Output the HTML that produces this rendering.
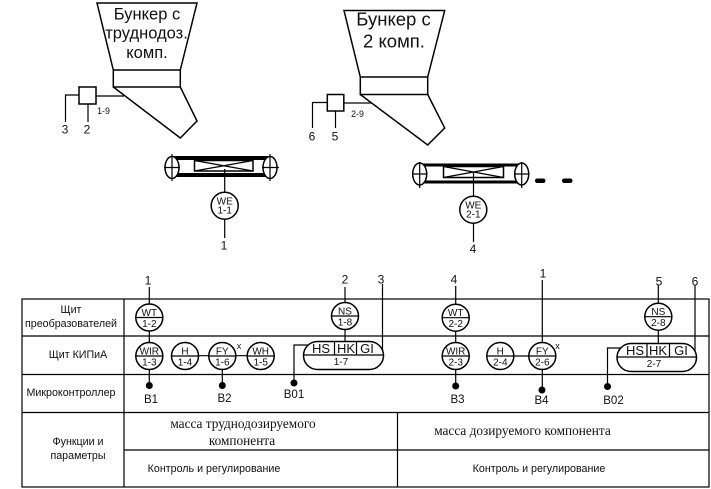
<!DOCTYPE html>
<html><head><meta charset="utf-8">
<style>
html,body{margin:0;padding:0;background:#fff;width:711px;height:489px;overflow:hidden}
svg{display:block;font-family:"Liberation Sans",sans-serif}
text{fill:#111;text-anchor:middle}
.l{stroke:#000;stroke-width:1.2;fill:none}
.c{stroke:#000;stroke-width:1.5;fill:#fff}
.h{stroke:#000;stroke-width:1.5;fill:none}
.s{font-size:10px}.n{font-size:10.7px}.b{font-size:11.5px}
.d{font-size:12px}
.r{font-family:"Liberation Serif",serif;font-size:13.300px}
</style></head><body>
<svg width="711" height="489" viewBox="0 0 711 489">
<!-- table -->
<g class="l">
<rect x="22" y="299" width="687" height="188"/>
<path d="M22 336H709M22 374.500H709M22 412.500H709M124 450H709M124 299V487M397.500 412.500V487"/>
</g>
<text class="n" x="71" y="313">Щит</text>
<text class="n" x="71" y="327">преобразователей</text>
<text class="n" x="78" y="358">Щит КИПиА</text>
<text class="n" x="71" y="396">Микроконтроллер</text>
<text class="n" x="78" y="445">Функции и</text>
<text class="n" x="78" y="459">параметры</text>
<text class="r" x="243" y="428">масса труднодозируемого</text>
<text class="r" x="242" y="445">компонента</text>
<text class="r" x="522.500" y="435">масса дозируемого компонента</text>
<text class="n" x="214" y="472">Контроль и регулирование</text>
<text class="n" x="539" y="472">Контроль и регулирование</text>

<!-- left hopper -->
<g class="h">
<path d="M113.300 70L97 3H197L180.300 70"/>
<rect x="113.300" y="70" width="67" height="17"/>
<path d="M113.300 87L180.300 138L197 121L180.300 87"/>
<rect x="79" y="87" width="17" height="17"/>
</g>
<g class="l"><path d="M96 96H124M79 95H65.500V122M88 104V122"/></g>
<text font-size="16.500" x="147" y="19.500">Бункер с</text>
<text font-size="16.500" x="146.500" y="38.500">труднодоз.</text>
<text font-size="16.500" x="147" y="58">комп.</text>
<text class="d" x="65" y="133.500">3</text>
<text class="d" x="87" y="133.500">2</text>
<text font-size="8.800" x="103.500" y="114">1-9</text>

<!-- left conveyor -->
<g>
<path d="M172 158H270M172 175H270" stroke="#000" stroke-width="4" fill="none"/>
<rect x="194.500" y="160.500" width="58.500" height="10.500" class="h"/>
<path d="M194.500 160.500L253 171M194.500 171L253 160.500" class="l" stroke-width="0.8"/>
<ellipse cx="172" cy="167.500" rx="7" ry="11" class="c"/>
<ellipse cx="270" cy="167.500" rx="7" ry="11" class="c"/>
<path d="M172 154V181M164 167.500H180M270 154V181M262 167.500H279" class="l"/>
<path d="M224.700 169V192M224.700 220V238" class="l"/>
<circle cx="224.700" cy="205.700" r="13.500" class="c"/>
</g>
<text class="s" x="224.700" y="204.500">WE</text>
<text class="s" x="224.700" y="213.500">1-1</text>
<text class="d" x="224" y="249.500">1</text>

<!-- right hopper -->
<g class="h">
<path d="M360.300 77L344 10.500H444.700L427.700 77"/>
<rect x="360.300" y="77" width="67.400" height="17.500"/>
<path d="M360.300 94.500L427.700 145L444.700 128L427.700 94.500"/>
<rect x="327.300" y="94.500" width="16.500" height="16.500"/>
</g>
<g class="l"><path d="M344 103H371M327 102.500H312.500V128M335.500 111V128"/></g>
<text font-size="18.500" x="393.500" y="25.500">Бункер с</text>
<text font-size="18.500" x="394" y="47.500">2 комп.</text>
<text class="d" x="312" y="140.500">6</text>
<text class="d" x="335" y="140.500">5</text>
<text font-size="8.800" x="357.500" y="117">2-9</text>

<!-- right conveyor -->
<g>
<path d="M420 165H522M420 182H522" stroke="#000" stroke-width="3" fill="none"/>
<rect x="443.500" y="166.500" width="60" height="11" class="h"/>
<path d="M443.500 166.500L503.500 177.500M443.500 177.500L503.500 166.500" class="l" stroke-width="0.8"/>
<ellipse cx="419.700" cy="174" rx="7" ry="11" class="c"/>
<ellipse cx="521.700" cy="174" rx="7" ry="11" class="c"/>
<path d="M419.700 162V188M412 174H427M521.700 162V188M514 174H529" class="l"/>
<path d="M473.500 172V196M473.500 224V242" class="l"/>
<circle cx="473.300" cy="209.700" r="13.500" class="c"/>
<rect x="535" y="178.500" width="10.500" height="4.500" rx="2.200" fill="#000"/>
<rect x="562" y="178.500" width="10.500" height="4.500" rx="2.200" fill="#000"/>
</g>
<text class="s" x="473.300" y="208.500">WE</text>
<text class="s" x="473.300" y="217.500">2-1</text>
<text class="d" x="473" y="253">4</text>

<!-- connectors -->
<g class="l">
<path d="M149.300 287V304M149.300 330V343M149.300 369V385"/>
<path d="M185 355.700H260M222.300 369V385"/>
<path d="M345 287V303M345 329V341"/>
<path d="M382.500 284V352"/>
<path d="M309 345H294V383"/>
<path d="M455.700 286V304M455.700 331V343M455.700 369V386"/>
<path d="M500 356H542M542.300 280V343M542.300 369V390"/>
<path d="M658.300 285V303M658.300 330V343"/>
<path d="M695 285V353"/>
<path d="M622 348H607.500V386"/>
</g>
<g fill="#000">
<circle cx="149.300" cy="385.500" r="3.500"/>
<circle cx="222.300" cy="385.500" r="3.500"/>
<circle cx="294" cy="383" r="3.500"/>
<circle cx="455.700" cy="386" r="3.500"/>
<circle cx="542" cy="390" r="3.500"/>
<circle cx="607.500" cy="386.500" r="3.500"/>
</g>

<!-- instruments -->
<g class="c">
<circle cx="149.300" cy="317.500" r="13.500"/>
<circle cx="345" cy="316" r="13.500"/>
<circle cx="149.300" cy="356" r="13.500"/>
<circle cx="185" cy="356" r="13.500"/>
<circle cx="222.300" cy="356" r="13.500"/>
<circle cx="260.700" cy="356" r="13.500"/>
<circle cx="455.700" cy="317.700" r="13.500"/>
<circle cx="455.700" cy="356" r="13.500"/>
<circle cx="500.300" cy="356" r="13.500"/>
<circle cx="542.300" cy="356" r="13.500"/>
<circle cx="658.300" cy="316.700" r="13.500"/>
<rect x="303.500" y="341.500" width="80" height="28" rx="14"/>
<rect x="617" y="343.500" width="79.500" height="28" rx="14"/>
</g>
<g class="l">
<path d="M136 317.500H163M331.500 316H358.500M136 356H163M171.500 356H198.500M209 356H236M247 356H274"/>
<path d="M442 317.700H469M442 356H469M487 356H514M529 356H556M645 316.700H672"/>
<path d="M304 355H383M334.500 341.500V355M356.500 341.500V355"/>
<path d="M617.500 357H696M647 343.500V357M669.500 343.500V357"/>
</g>
<g class="s">
<text x="149.300" y="316">WT</text><text x="149.300" y="327">1-2</text>
<text x="345" y="314.500">NS</text><text x="345" y="325.500">1-8</text>
<text x="149.300" y="354.500">WIR</text><text x="149.300" y="365.500">1-3</text>
<text x="185" y="354.500">H</text><text x="185" y="365.500">1-4</text>
<text x="222.300" y="354.500">FY</text><text x="222.300" y="365.500">1-6</text>
<text x="260.700" y="354.500">WH</text><text x="260.700" y="365.500">1-5</text>
<text x="455.700" y="316">WT</text><text x="455.700" y="327">2-2</text>
<text x="455.700" y="354.500">WIR</text><text x="455.700" y="365.500">2-3</text>
<text x="500.300" y="354.500">H</text><text x="500.300" y="365.500">2-4</text>
<text x="542.300" y="354.500">FY</text><text x="542.300" y="365.500">2-6</text>
<text x="658.300" y="315">NS</text><text x="658.300" y="326">2-8</text>
<text x="341" y="365">1-7</text>
<text x="654" y="367">2-7</text>
<text x="239" y="349" font-size="9">x</text>
<text x="557.500" y="349" font-size="9">x</text>
</g>
<g font-size="13">
<text x="321" y="353">HS</text><text x="346" y="353">HK</text><text x="367" y="353">GI</text>
<text x="635" y="355">HS</text><text x="658" y="355">HK</text><text x="681" y="355">GI</text>
</g>
<g class="d">
<text x="148" y="284.500">1</text><text x="345" y="283.500">2</text><text x="381" y="283.500">3</text>
<text x="454" y="283.500">4</text><text x="543" y="277.500">1</text><text x="659" y="285.500">5</text><text x="695" y="285.500">6</text>
</g>
<g class="b">
<text x="151" y="403">B1</text><text x="224.500" y="402">B2</text><text x="294" y="398">B01</text>
<text x="457.500" y="403">B3</text><text x="541.500" y="404">B4</text><text x="613.500" y="404">B02</text>
</g>
</svg>
</body></html>
